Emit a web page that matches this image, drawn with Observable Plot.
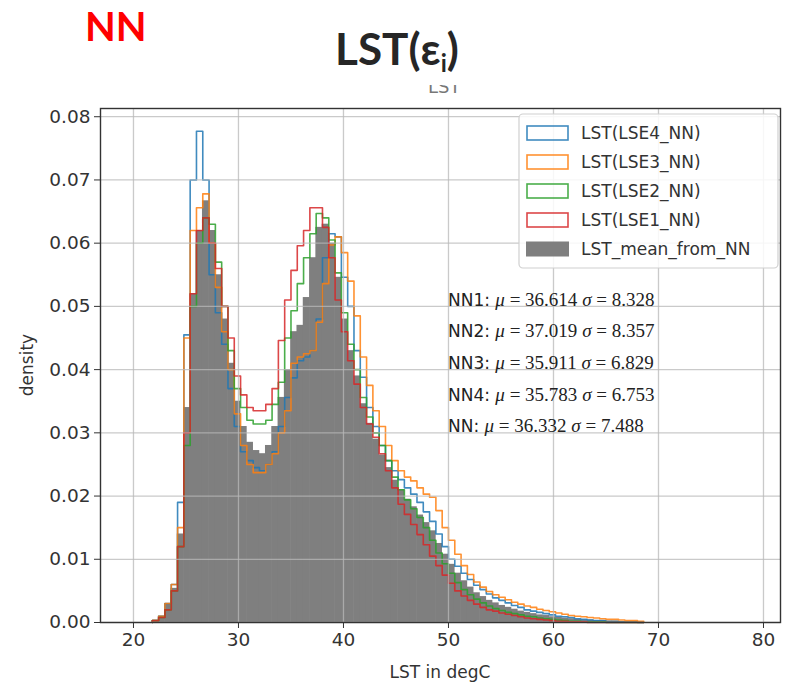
<!DOCTYPE html>
<html>
<head>
<meta charset="utf-8">
<script src="https://cdn.jsdelivr.net/npm/d3@7"></script>
<script src="https://cdn.jsdelivr.net/npm/@observablehq/plot@0.6"></script>
<style>
  html, body { margin: 0; padding: 0; background: #fff; }
  #wrap { position: relative; width: 790px; height: 683px; overflow: hidden; }
  #header { position: relative; width: 790px; height: 100px; }
  #nn { position: absolute; left: 85px; top: 6px; font-family: Lato, sans-serif; font-weight: 700; font-size: 40px; line-height: 40px; color: #ff0000; }
  #title { position: absolute; left: 0; width: 794px; text-align: center; top: 26px; font-family: Lato, sans-serif; font-weight: 700; font-size: 44px; line-height: 44px; color: #262626; white-space: nowrap; }
  #title .sub { font-size: 24px; position: relative; top: 7px; }
  #cut { position: absolute; left: 428px; top: 85px; width: 44px; height: 8px; overflow: hidden; }
  #cut span { position: absolute; left: 0; top: -7px; font-family: "DejaVu Sans", sans-serif; font-size: 18px; line-height: 18px; color: #777; }
  svg { display: block; }
</style>
</head>
<body>
<div id="wrap">
  <div id="header">
    <div id="nn">NN</div>
    <div id="title">LST(ε<span class="sub">i</span>)</div>
    <div id="cut"><span>LST</span></div>
  </div>
  <div id="chart"></div>
</div>
<script>
// Histogram bins (degC): lower edge of first bin and common width
const binStart = 21.8;
const binWidth = 0.6;

// Density values per bin
const lse4 = [0.0003,0.001,0.003,0.006,0.019,0.0455,0.070,0.0777,0.070,0.055,
  0.049,0.044,0.037,0.031,0.027,0.0256,0.0245,0.024,0.025,0.027,
  0.031,0.0356,0.0387,0.0414,0.042,0.043,0.048,0.0577,0.0615,0.061,
  0.0546,0.050,0.043,0.0388,0.034,0.031,0.028,0.0256,0.024,0.0226,
  0.0213,0.0203,0.019,0.0175,0.016,0.014,0.012,0.0100,0.0089,0.0078,
  0.0068,0.0059,0.0052,0.0045,0.0039,0.0035,0.0031,0.0027,0.0024,0.002,
  0.0018,0.0016,0.0014,0.0012,0.001,0.0009,0.0008,0.0006,0.0005,0.0004,
  0.0003,0.0003,0.0002,0.0002,0.0001,0.0001,0.0001,0];
const lse3 = [0.0003,0.001,0.003,0.006,0.015,0.045,0.062,0.0656,0.0678,0.060,
  0.053,0.046,0.040,0.033,0.028,0.025,0.0237,0.0237,0.025,0.0267,
  0.030,0.0335,0.041,0.042,0.0425,0.043,0.0475,0.0536,0.0597,0.061,
  0.0585,0.054,0.0485,0.042,0.0375,0.0335,0.031,0.028,0.0256,0.024,
  0.023,0.0224,0.0213,0.0203,0.0198,0.0177,0.015,0.013,0.0108,0.009,
  0.0076,0.0064,0.0056,0.0049,0.0044,0.004,0.0036,0.0032,0.0029,0.0026,
  0.0024,0.0021,0.0019,0.0017,0.0015,0.0013,0.0011,0.001,0.0009,0.0008,
  0.0007,0.0006,0.0005,0.0005,0.0004,0.0003,0.0003,0.0002];
const lse2 = [0.0003,0.0008,0.002,0.005,0.012,0.028,0.050,0.060,0.064,0.063,
  0.057,0.050,0.043,0.037,0.034,0.032,0.0314,0.0314,0.032,0.0345,
  0.038,0.045,0.0493,0.0536,0.0577,0.0615,0.0647,0.064,0.0605,0.0553,
  0.049,0.044,0.040,0.0356,0.0325,0.030,0.028,0.0256,0.023,0.021,
  0.0194,0.018,0.0166,0.015,0.013,0.011,0.0093,0.0078,0.0063,0.0052,
  0.0044,0.0037,0.0031,0.0026,0.0022,0.0019,0.0016,0.0014,0.0012,0.001,
  0.0009,0.0007,0.0006,0.0005,0.0004,0.0003,0.0002,0.0002,0.0001,0.0001,
  0.0001,0.0001,0,0,0,0,0,0];
const lse1 = [0.0003,0.0008,0.002,0.005,0.012,0.030,0.052,0.062,0.064,0.060,
  0.056,0.050,0.045,0.039,0.036,0.034,0.0335,0.0335,0.0345,0.037,
  0.0446,0.051,0.0557,0.0596,0.062,0.0656,0.0656,0.0625,0.0577,0.051,
  0.046,0.0414,0.0377,0.034,0.0314,0.0293,0.0267,0.024,0.0213,0.0187,
  0.0171,0.0155,0.0139,0.0123,0.0105,0.009,0.0075,0.0062,0.005,0.0042,
  0.0035,0.0029,0.0024,0.002,0.0018,0.0015,0.0013,0.0011,0.0009,0.0007,
  0.0006,0.0005,0.0004,0.0003,0.0002,0.0002,0.0001,0.0001,0.0001,0,
  0,0,0,0,0,0,0,0];
const meanNN = [0.0003,0.001,0.003,0.0054,0.014,0.034,0.052,0.062,0.0667,0.062,
  0.055,0.048,0.041,0.035,0.031,0.0285,0.0272,0.0267,0.028,0.031,
  0.0356,0.040,0.046,0.047,0.0514,0.0577,0.0625,0.063,0.060,0.0546,
  0.048,0.043,0.039,0.0346,0.0315,0.029,0.0265,0.0245,0.0225,0.021,
  0.0195,0.0183,0.017,0.0158,0.0145,0.0125,0.0108,0.0092,0.0078,0.0066,
  0.0056,0.0047,0.0041,0.0035,0.0031,0.0027,0.0024,0.0021,0.0018,0.0016,
  0.0014,0.0012,0.0011,0.0009,0.0008,0.0007,0.0006,0.0005,0.0004,0.0004,
  0.0003,0.0003,0.0002,0.0002,0.0001,0.0001,0.0001,0];

const seriesNames = ["LST(LSE4_NN)", "LST(LSE3_NN)", "LST(LSE2_NN)", "LST(LSE1_NN)"];
const seriesValues = [lse4, lse3, lse2, lse1];
const seriesColors = ["#1f77b4", "#ff7f0e", "#2ca02c", "#d62728"];
const meanName = "LST_mean_from_NN";
const meanColor = "#7f7f7f";

const statLabels = ["NN1:", "NN2:", "NN3:", "NN4:", "NN:"];
const statMu = ["36.614", "37.019", "35.911", "35.783", "36.332"];
const statSigma = ["8.328", "8.357", "6.829", "6.753", "7.488"];
const statY = [0.05, 0.045, 0.04, 0.035, 0.03];
const statX = 50;

const xTicks = [20, 30, 40, 50, 60, 70, 80];
const yTicks = [0, 0.01, 0.02, 0.03, 0.04, 0.05, 0.06, 0.07, 0.08];

function bins(vals) {
  return vals.map((v, i) => ({x1: binStart + i * binWidth, x2: binStart + (i + 1) * binWidth, y: v}));
}
function stepPoints(vals) {
  const pts = [{x: binStart, y: 0}];
  vals.forEach((v, i) => pts.push({x: binStart + i * binWidth, y: v}));
  pts.push({x: binStart + vals.length * binWidth, y: 0});
  return pts;
}

const chart = Plot.plot({
  width: 790,
  height: 583,
  marginLeft: 100,
  marginRight: 10,
  marginTop: 8,
  marginBottom: 61,
  style: {fontFamily: "DejaVu Sans, sans-serif", fontSize: "18.5px", color: "#333", background: "#fff"},
  x: {domain: [16.86, 81.62]},
  y: {domain: [0, 0.0813]},
  marks: [
    Plot.rectY(bins(meanNN), {x1: "x1", x2: "x2", y: "y", fill: meanColor, insetLeft: -0.3, insetRight: -0.3}),
    ...seriesValues.map((vals, k) => Plot.line(stepPoints(vals), {
      x: "x", y: "y", curve: "step-after", stroke: seriesColors[k], strokeWidth: 1.6, strokeOpacity: 0.85
    })),
    Plot.gridX(xTicks, {stroke: "#b8b8b8", strokeOpacity: 0.75, strokeWidth: 1.3}),
    Plot.gridY(yTicks, {stroke: "#b8b8b8", strokeOpacity: 0.75, strokeWidth: 1.3}),
    Plot.frame({stroke: "#333", strokeWidth: 1.4}),
    Plot.axisX(xTicks, {tickSize: 6, tickPadding: 4, label: null, tickFormat: d => String(d), stroke: "#333"}),
    Plot.axisY(yTicks, {tickSize: 6, tickPadding: 4, label: null, tickFormat: d3.format(".2f"), stroke: "#333"})
  ]
});
document.getElementById("chart").appendChild(chart);

const svg = d3.select(chart);
const sx = chart.scale("x");
const sy = chart.scale("y");

// Axis titles
svg.append("text")
  .attr("x", 440).attr("y", 578)
  .attr("text-anchor", "middle")
  .attr("font-family", "DejaVu Sans, sans-serif").attr("font-size", 17).attr("fill", "#333")
  .text("LST in degC");
svg.append("text")
  .attr("transform", "translate(33,265) rotate(-90)")
  .attr("text-anchor", "middle")
  .attr("font-family", "DejaVu Sans, sans-serif").attr("font-size", 17).attr("fill", "#333")
  .text("density");

// Statistic annotations
statLabels.forEach((lab, i) => {
  const t = svg.append("text")
    .attr("x", sx.apply(statX)).attr("y", sy.apply(statY[i]))
    .attr("text-anchor", "start")
    .attr("fill", "#222");
  t.append("tspan").attr("font-family", "DejaVu Sans, sans-serif").attr("font-size", 17).text(lab + " ");
  const m = (s, it) => t.append("tspan").attr("font-family", "Liberation Serif, serif").attr("font-size", 19)
    .attr("font-style", it ? "italic" : "normal").text(s);
  m("μ", true); m(" = " + statMu[i] + " ", false); m("σ", true); m(" = " + statSigma[i], false);
});

// Legend
const lg = svg.append("g");
const lx = 519, ly = 14, lw = 259, lh = 154;
lg.append("rect").attr("x", lx).attr("y", ly).attr("width", lw).attr("height", lh)
  .attr("rx", 4).attr("fill", "#fff").attr("fill-opacity", 0.85).attr("stroke", "#d0d0d0").attr("stroke-width", 1.2);
const names = [...seriesNames, meanName];
names.forEach((n, i) => {
  const cy = ly + 19 + i * 29;
  if (i < 4) {
    lg.append("rect").attr("x", lx + 8).attr("y", cy - 7).attr("width", 41).attr("height", 14)
      .attr("fill", "none").attr("stroke", seriesColors[i]).attr("stroke-width", 1.6).attr("stroke-opacity", 0.85);
  } else {
    lg.append("rect").attr("x", lx + 7).attr("y", cy - 7.5).attr("width", 43).attr("height", 15).attr("fill", meanColor);
  }
  lg.append("text").attr("x", lx + 62).attr("y", cy).attr("dy", "0.35em")
    .attr("text-anchor", "start")
    .attr("font-family", "DejaVu Sans, sans-serif").attr("font-size", 17).attr("fill", "#333").text(n);
});
</script>
</body>
</html>
